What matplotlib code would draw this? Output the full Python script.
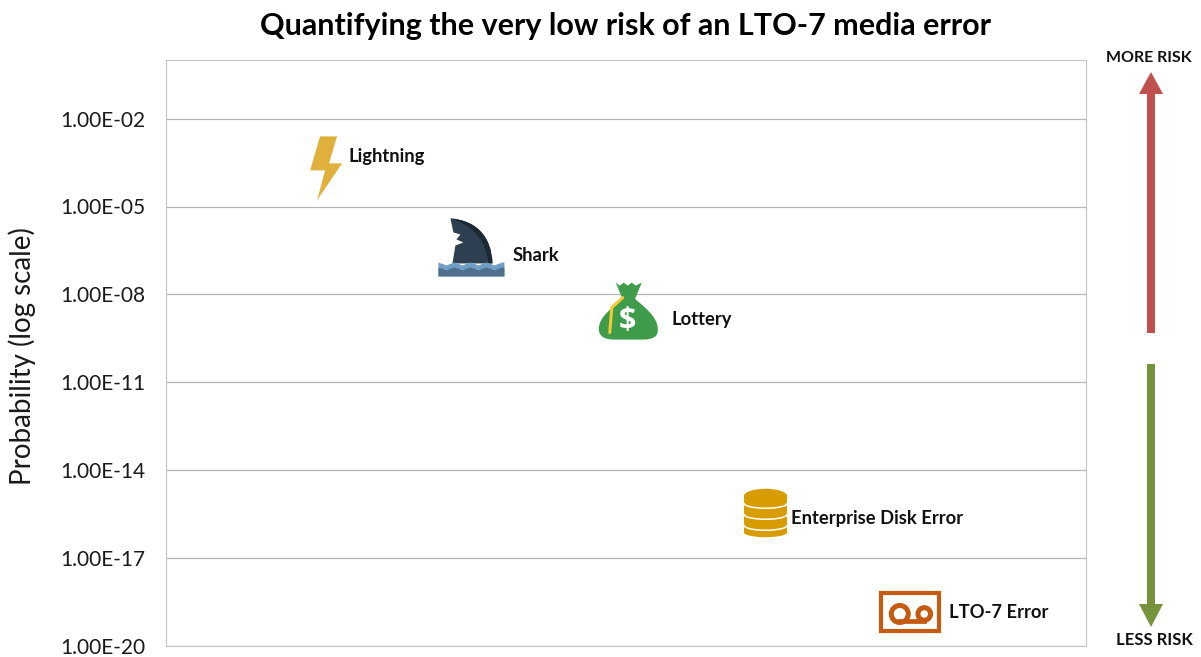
import numpy as np
import matplotlib
matplotlib.use('Agg')
import matplotlib.pyplot as plt
from matplotlib.patches import Polygon, Circle, Rectangle, Ellipse, PathPatch
from matplotlib.path import Path
from matplotlib.transforms import Affine2D, IdentityTransform, ScaledTranslation

plt.rcParams['font.family'] = ['Lato', 'DejaVu Sans']

W, H = 1201, 657

# values
names = ['Lightning', 'Shark', 'Lottery', 'Enterprise Disk Error', 'LTO-7 Error']
x_pos = [17.4, 33.2, 50.3, 65.2, 80.9]
probability = [2e-4, 3.7e-7, 2.8e-9, 3.4e-16, 1.45e-19]
tick_values = [1e-2, 1e-5, 1e-8, 1e-11, 1e-14, 1e-17, 1e-20]
tick_labels = ['1.00E-02', '1.00E-05', '1.00E-08', '1.00E-11', '1.00E-14', '1.00E-17', '1.00E-20']

fig = plt.figure(figsize=(W / 100, H / 100), dpi=100)
ax = fig.add_axes([166 / W, (H - 646) / H, 920 / W, 586 / H])
ax.set_xlim(0, 100)
ax.set_yscale('log')
ax.set_ylim(1e-20, 1e0)
ax.set_xticks([])
ax.set_yticks(tick_values)
ax.set_yticklabels(tick_labels)
ax.minorticks_off()
ax.tick_params(axis='y', length=0, pad=15, labelsize=15, labelcolor='#1a1a1a')
ax.grid(True, axis='y', color='#b5b5b5', lw=0.9)
ax.set_axisbelow(True)
for s in ax.spines.values():
    s.set_color('#c4c4c4')
    s.set_linewidth(0.8)


def tf(i):
    # local icon coordinates are pixels, y down, around the data point
    return Affine2D().scale(1, -1) + ScaledTranslation(x_pos[i], probability[i], ax.transData)


def lightning(i):
    pts = [(-6, -32), (11, -32), (3, -5), (16, -5), (-9, 32), (-1, 2), (-16, 2)]
    ax.add_patch(Polygon(pts, closed=True, fc='#e0b03c', ec='none', transform=tf(i), zorder=3, clip_on=False))


def shark(i):
    t = tf(i)
    verts = [(-21, -30), (5, -28), (20, -12), (21, 15), (-19, 15), (-17, 3), (-16, -3), (-8, -6), (-15, -9),
             (-11, -14), (-18, -16), (-21, -30)]
    codes = [Path.MOVETO, Path.CURVE4, Path.CURVE4, Path.CURVE4] + [Path.LINETO] * 7 + [Path.CLOSEPOLY]
    ax.add_patch(PathPatch(Path(verts, codes), fc='#2d3f50', ec='none', transform=t, zorder=3))
    dark = [(-21, -30), (5, -28), (20, -12), (21, 15), (17, 15), (15, -6), (4, -22), (-21, -30)]
    dark_codes = [Path.MOVETO, Path.CURVE4, Path.CURVE4, Path.CURVE4, Path.LINETO, Path.CURVE4, Path.CURVE4, Path.CURVE4]
    ax.add_patch(PathPatch(Path(dark, dark_codes), fc='#1b2935', ec='none', transform=t, zorder=3))
    crest_x = [-33, -25, -17, -9, -1, 7, 15, 23, 31, 33]
    crest_y = [14, 17, 14, 17, 14, 17, 14, 17, 14, 14]
    top = [(-33, 28)] + list(zip(crest_x, crest_y)) + [(33, 28)]
    ax.add_patch(Polygon(top, closed=True, fc='#6f9fc4', ec='none', transform=t, zorder=4))
    low = [(-33, 28)] + [(xv, yv + 5) for xv, yv in zip(crest_x, crest_y)] + [(33, 28)]
    ax.add_patch(Polygon(low, closed=True, fc='#4f6f8c', ec='none', transform=t, zorder=5))


def money_bag(i):
    t = tf(i)
    green = '#3f9c4a'
    crown = [(-13, -28), (-9, -25), (-5, -28), (-1, -25), (3, -28), (7, -25), (13, -28), (6, -11), (-6, -11)]
    ax.add_patch(Polygon(crown, closed=True, fc=green, ec='none', transform=t, zorder=3))
    verts = [(-6, -12), (-14, -5), (-30, 6), (-30, 18), (-30, 26), (-24, 29), (-14, 29), (14, 29),
             (24, 29), (30, 26), (29, 18), (29, 6), (14, -5), (6, -12), (-6, -12)]
    codes = [Path.MOVETO, Path.CURVE4, Path.CURVE4, Path.CURVE4, Path.CURVE4, Path.CURVE4, Path.CURVE4,
             Path.LINETO, Path.CURVE4, Path.CURVE4, Path.CURVE4, Path.CURVE4, Path.CURVE4, Path.CURVE4, Path.CLOSEPOLY]
    ax.add_patch(PathPatch(Path(verts, codes), fc=green, ec='none', transform=t, zorder=3))
    ax.plot([-6, -17, -19], [-13, -3, 22], color='#f5c932', lw=2.2, transform=t, zorder=4, solid_capstyle='round')
    ax.text(-1, 10, '$', color='white', fontsize=22, fontweight='bold', ha='center', va='center',
            transform=t, zorder=5, family=['Open Sans'])


def disk(i):
    t = tf(i)
    col = '#d69c00'
    ax.add_patch(Rectangle((-22, -17), 43.5, 36, fc=col, ec='none', transform=t, zorder=3))
    ax.add_patch(Ellipse((-0.25, 19), 43.5, 10, fc=col, ec='none', transform=t, zorder=3))
    ax.add_patch(Ellipse((-0.25, -17), 43.5, 15, fc=col, ec='none', transform=t, zorder=3))
    xv = np.linspace(-22, 21.5, 40)
    for off in [-10, 1, 12]:
        ax.plot(xv, off + 5 * np.sqrt(1 - ((xv + 0.25) / 21.75) ** 2), color='white', lw=1.1, transform=t, zorder=4)


def tape(i):
    t = tf(i)
    col = '#c55a11'
    ax.add_patch(Rectangle((-29, -18.5), 57.7, 37.5, fc='none', ec=col, lw=3, transform=t, zorder=3))
    ax.add_patch(Circle((-10.5, 2), 8.5, fc='none', ec=col, lw=3.6, transform=t, zorder=3))
    ax.add_patch(Circle((14, 2), 6.3, fc='none', ec=col, lw=3.6, transform=t, zorder=3))
    ax.plot([-10.5, 14], [9.5, 9.5], color=col, lw=3.4, transform=t, zorder=3)


for i, draw in enumerate([lightning, shark, money_bag, disk, tape]):
    draw(i)

# label offset from the data point, pixels
label_offsets = [(22, 12), (41, -7), (43, -9), (25, -5), (39, -1)]
for i, name in enumerate(names):
    ax.annotate(name, (x_pos[i], probability[i]), xytext=(label_offsets[i][0] * 0.72, label_offsets[i][1] * 0.72),
                textcoords='offset points', fontsize=13.2, fontweight='bold', color='#111111', ha='left', va='center', zorder=6)

ax.set_ylabel('Probability (log scale)', fontsize=20, color='#1a1a1a', va='center')
ax.yaxis.set_label_coords(22 / W, (H - 356) / H, transform=fig.transFigure)

fig.text(625 / W, (H - 26) / H, 'Quantifying the very low risk of an LTO-7 media error', fontsize=22,
         fontweight='bold', color='black', ha='center', va='center')
fig.text(1149 / W, (H - 58) / H, 'MORE RISK', fontsize=11.5, fontweight='bold', color='#111111', ha='center', va='center')
fig.text(1154 / W, (H - 640) / H, 'LESS RISK', fontsize=12, fontweight='bold', color='#111111', ha='center', va='center')


def arrow(tail, head_base, tip, col):
    xc, sw, hw = 1151, 4, 12
    pts = [(xc - sw, tail), (xc + sw, tail), (xc + sw, head_base), (xc + hw, head_base), (xc, tip),
           (xc - hw, head_base), (xc - sw, head_base)]
    fig.add_artist(Polygon([(p, H - q) for p, q in pts], closed=True, fc=col, ec='none', transform=IdentityTransform()))


arrow(333, 94, 72, '#c0504d')
arrow(364, 604, 627, '#76923c')

fig.savefig('out.png', dpi=100)
